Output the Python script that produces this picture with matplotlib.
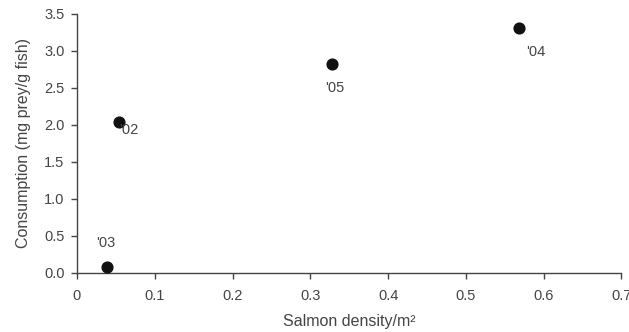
import matplotlib
matplotlib.use("Agg")
import matplotlib.pyplot as plt

# data
density = [0.054, 0.039, 0.568, 0.328]
consumption = [2.04, 0.08, 3.31, 2.82]
years = ["'02", "'03", "'04", "'05"]
# label offsets in points (dx, dy) relative to each point
offsets = [(0, -6), (-8, 17), (5, -17), (-5, -17)]

plt.rcParams['font.family'] = ['Liberation Sans', 'DejaVu Sans']
grey = '#444444'

fig = plt.figure(figsize=(6.29, 3.32), dpi=100)
ax = fig.add_axes([0.1224, 0.179, 0.8656, 0.779])

ax.scatter(density, consumption, s=60, color='#111111', zorder=3, clip_on=False)
for x, y, lab, (dx, dy) in zip(density, consumption, years, offsets):
    ax.annotate(lab, (x, y), xytext=(dx, dy), textcoords='offset points',
                ha='left', va='center', fontsize=10.5, color=grey)

ax.set_xlim(0, 0.7)
ax.set_ylim(0, 3.5)
ax.set_xticks([0, 0.1, 0.2, 0.3, 0.4, 0.5, 0.6, 0.7])
ax.set_xticklabels(['0', '0.1', '0.2', '0.3', '0.4', '0.5', '0.6', '0.7'])
ax.set_yticks([0, 0.5, 1.0, 1.5, 2.0, 2.5, 3.0, 3.5])
ax.set_yticklabels(['0.0', '0.5', '1.0', '1.5', '2.0', '2.5', '3.0', '3.5'])

for s in ['top', 'right']:
    ax.spines[s].set_visible(False)
for s in ['left', 'bottom']:
    ax.spines[s].set_color(grey)
    ax.spines[s].set_linewidth(1.0)
ax.tick_params(direction='out', length=4, width=1.0, color=grey,
               labelcolor=grey, labelsize=10.5, pad=5)
ax.tick_params(axis='x', pad=8)

ax.set_xlabel('Salmon density/m\u00b2', fontsize=11.5, color=grey, labelpad=8)
ax.set_ylabel('Consumption (mg prey/g fish)', fontsize=11.5, color=grey, labelpad=9)

fig.savefig('out.png', dpi=100)
